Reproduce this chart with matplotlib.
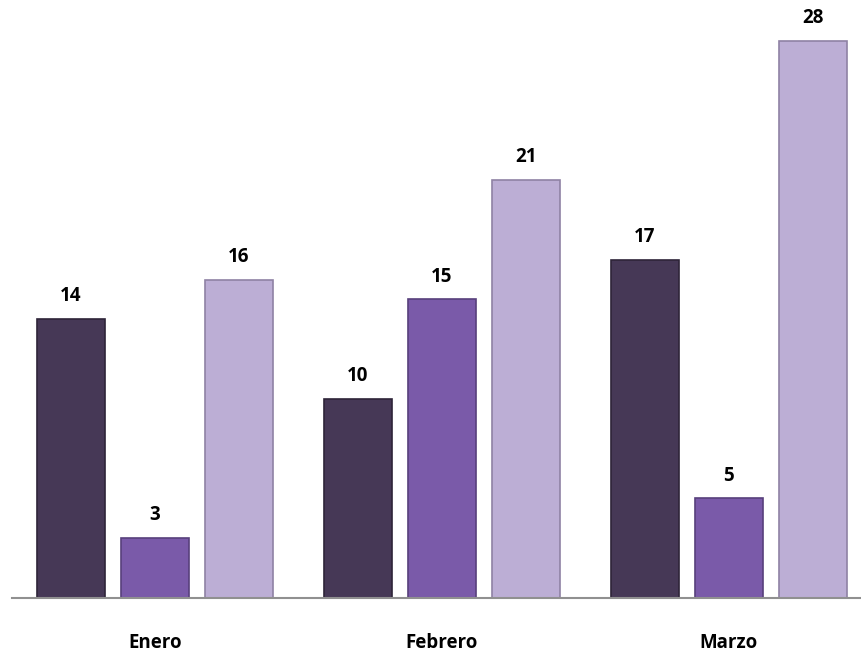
import numpy as np
import matplotlib.pyplot as plt

# data
months = ['Enero', 'Febrero', 'Marzo']
serie_a = [14, 10, 17]
serie_b = [3, 15, 5]
serie_c = [16, 21, 28]

colors = ['#463856', '#7a5aa9', '#bcaed5']
edges = ['#2e2438', '#58407c', '#8f82a4']

plt.rcParams['font.family'] = ['Open Sans', 'DejaVu Sans']

fig = plt.figure(figsize=(8.61, 6.53), dpi=100)
ax = fig.add_axes([0, 55 / 653, 1, 598 / 653])

x = np.arange(len(months))
offset = 0.293
width = 0.237

for i, vals in enumerate([serie_a, serie_b, serie_c]):
    pos = x + (i - 1) * offset
    bars = ax.bar(pos, vals, width=width, color=colors[i],
                  edgecolor=edges[i], linewidth=1.2, zorder=2)
    for b, v in zip(bars, vals):
        ax.text(b.get_x() + b.get_width() / 2, v + 0.65, str(v),
                ha='center', va='bottom', fontsize=13.5, fontweight='bold')

ax.set_xlim(-0.54, 2.46)
ax.set_ylim(0, 30.05)

for s in ['top', 'right', 'left']:
    ax.spines[s].set_visible(False)
ax.spines['bottom'].set_color('#909090')
ax.spines['bottom'].set_linewidth(1.5)
ax.spines['bottom'].set_bounds(-0.498, 2.46)

ax.set_yticks([])
ax.set_xticks(x)
ax.set_xticklabels(months, fontsize=13.5, fontweight='bold')
ax.tick_params(axis='x', length=0, pad=25)

fig.savefig('out.png', dpi=100)
